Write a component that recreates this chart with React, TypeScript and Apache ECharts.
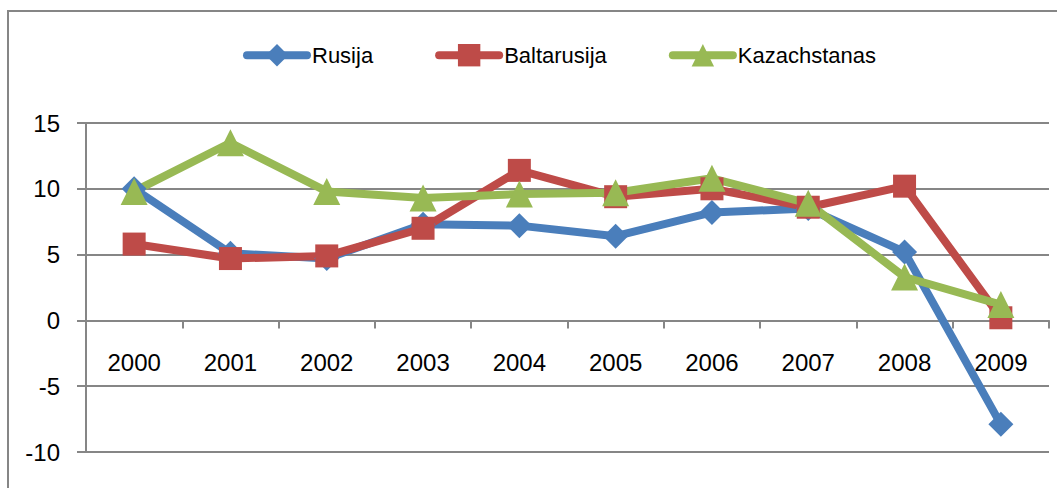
import React, { useEffect, useRef } from "react";
import * as echarts from "echarts";

const years = ["2000", "2001", "2002", "2003", "2004", "2005", "2006", "2007", "2008", "2009"];
const rusija = [10.0, 5.1, 4.7, 7.3, 7.2, 6.4, 8.2, 8.5, 5.2, -7.9];
const baltarusija = [5.8, 4.7, 4.9, 7.0, 11.4, 9.4, 10.0, 8.6, 10.2, 0.2];
const kazachstanas = [9.8, 13.5, 9.8, 9.3, 9.6, 9.7, 10.8, 8.9, 3.3, 1.2];

const FONT = "'Liberation Sans', Arial, sans-serif";
const GRAY = "#868686";

export default function App() {
  const ref = useRef<HTMLDivElement>(null);
  useEffect(() => {
    if (!ref.current) return;
    const chart = echarts.init(ref.current, undefined, { renderer: "svg" });
    const mk = (name: string, data: number[], color: string, symbol: string, size: number) => ({
      name,
      type: "line",
      xAxisIndex: 0,
      data,
      symbol,
      symbolSize: size,
      lineStyle: { color, width: 8 },
      itemStyle: { color },
      emphasis: { disabled: true },
    });
    chart.setOption({
      animation: false,
      backgroundColor: "#ffffff",
      textStyle: { fontFamily: FONT },
      graphic: [
        {
          type: "rect",
          shape: { x: 8, y: 11, width: 1070, height: 500 },
          style: { fill: "none", stroke: GRAY, lineWidth: 2 },
          silent: true,
        },
      ],
      legend: {
        left: 238,
        top: 39,
        itemWidth: 60,
        itemHeight: 28,
        itemGap: 62,
        lineStyle: { width: 8, cap: "round" },
        textStyle: { fontSize: 22, color: "#000", fontFamily: FONT },
        data: ["Rusija", "Baltarusija", "Kazachstanas"],
      },
      grid: { left: 86, right: 8, top: 123, bottom: 36, containLabel: false, outerBoundsMode: "none" },
      xAxis: [
        {
          type: "category",
          data: years,
          boundaryGap: true,
          axisLine: { onZero: true, lineStyle: { color: GRAY, width: 2 } },
          axisTick: { show: true, interval: 0, length: 8, lineStyle: { color: GRAY, width: 2 } },
          axisLabel: { show: false },
          splitLine: { show: false },
        },
        {
          type: "category",
          data: years,
          boundaryGap: true,
          position: "bottom",
          offset: -132,
          axisLine: { show: false, onZero: false },
          axisTick: { show: false },
          axisLabel: { fontSize: 24, color: "#000", margin: 30, interval: 0, fontFamily: FONT },
          splitLine: { show: false },
        },
      ],
      yAxis: {
        type: "value",
        min: -10,
        max: 15,
        interval: 5,
        axisLine: { show: true, lineStyle: { color: GRAY, width: 2 } },
        axisTick: { show: true, length: 9, lineStyle: { color: GRAY, width: 2 } },
        axisLabel: { fontSize: 24, color: "#000", margin: 26, fontFamily: FONT },
        splitLine: { show: true, lineStyle: { color: GRAY, width: 2 } },
      },
      series: [
        mk("Rusija", rusija, "#4a7ebb", "diamond", 25),
        mk("Baltarusija", baltarusija, "#be4b48", "rect", 23),
        mk("Kazachstanas", kazachstanas, "#98b954", "triangle", 27),
      ],
    });
    return () => chart.dispose();
  }, []);
  return (
    <div
      ref={ref}
      style={{ position: "fixed", left: 0, top: 0, width: 1057, height: 488 }}
    />
  );
}
